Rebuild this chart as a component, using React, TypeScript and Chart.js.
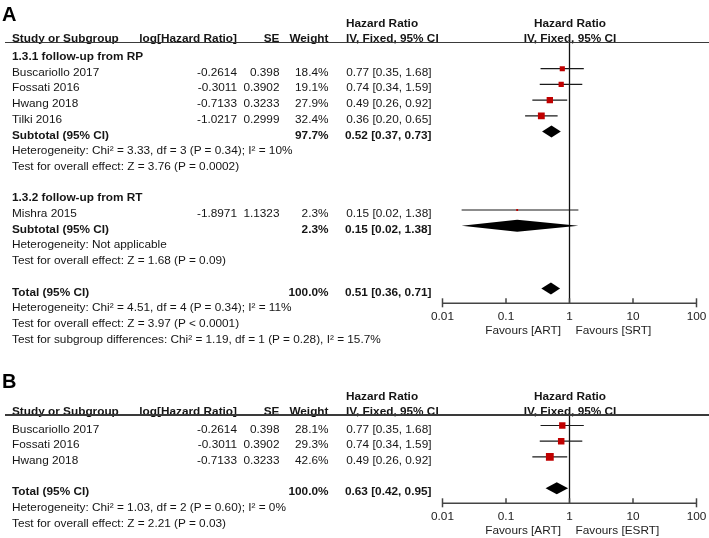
import React, { useEffect, useRef } from "react";
import { Chart, registerables } from "chart.js";

Chart.register(...registerables);

const FONT = '"Liberation Sans", Arial, Helvetica, sans-serif';
const FS = 11.8;
const ROW_H = 15.7;
const W = 709;
const TEXT = "#151515";
const RED = "#c00000";
const SQ_K = 1.2;

// axis
const TICKS = [0.01, 0.1, 1, 10, 100];
const TICK_LABELS = ["0.01", "0.1", "1", "10", "100"];

// ---------- Panel A data ----------
const A_STUDY = ["Buscariollo 2017", "Fossati 2016", "Hwang 2018", "Tilki 2016", "Mishra 2015"];
const A_LOGHR = [-0.2614, -0.3011, -0.7133, -1.0217, -1.8971];
const A_SE = [0.398, 0.3902, 0.3233, 0.2999, 1.1323];
const A_WEIGHT = [18.4, 19.1, 27.9, 32.4, 2.3];
const A_HR = [0.77, 0.74, 0.49, 0.36, 0.15];
const A_LO = [0.35, 0.34, 0.26, 0.2, 0.02];
const A_HI = [1.68, 1.59, 0.92, 0.65, 1.38];
const A_ROWS = [1, 2, 3, 4, 10];

const A_POOL_LABEL = ["Subtotal (95% CI)", "Subtotal (95% CI)", "Total (95% CI)"];
const A_POOL_WEIGHT = [97.7, 2.3, 100.0];
const A_POOL_HR = [0.52, 0.15, 0.51];
const A_POOL_LO = [0.37, 0.02, 0.36];
const A_POOL_HI = [0.73, 1.38, 0.71];
const A_POOL_ROWS = [5, 11, 15];

const A_NOTES = [
  "1.3.1 follow-up from RP",
  "Heterogeneity: Chi² = 3.33, df = 3 (P = 0.34); I² = 10%",
  "Test for overall effect: Z = 3.76 (P = 0.0002)",
  "1.3.2 follow-up from RT",
  "Heterogeneity: Not applicable",
  "Test for overall effect: Z = 1.68 (P = 0.09)",
  "Heterogeneity: Chi² = 4.51, df = 4 (P = 0.34); I² = 11%",
  "Test for overall effect: Z = 3.97 (P < 0.0001)",
  "Test for subgroup differences: Chi² = 1.19, df = 1 (P = 0.28), I² = 15.7%",
];
const A_NOTE_ROWS = [0, 6, 7, 9, 12, 13, 16, 17, 18];
const A_NOTE_BOLD = [true, false, false, true, false, false, false, false, false];
const A_FAVOURS = ["Favours [ART]", "Favours [SRT]"];

// ---------- Panel B data ----------
const B_STUDY = ["Buscariollo 2017", "Fossati 2016", "Hwang 2018"];
const B_LOGHR = [-0.2614, -0.3011, -0.7133];
const B_SE = [0.398, 0.3902, 0.3233];
const B_WEIGHT = [28.1, 29.3, 42.6];
const B_HR = [0.77, 0.74, 0.49];
const B_LO = [0.35, 0.34, 0.26];
const B_HI = [1.68, 1.59, 0.92];
const B_ROWS = [0, 1, 2];

const B_POOL_LABEL = ["Total (95% CI)"];
const B_POOL_WEIGHT = [100.0];
const B_POOL_HR = [0.63];
const B_POOL_LO = [0.42];
const B_POOL_HI = [0.95];
const B_POOL_ROWS = [4];

const B_NOTES = [
  "Heterogeneity: Chi² = 1.03, df = 2 (P = 0.60); I² = 0%",
  "Test for overall effect: Z = 2.21 (P = 0.03)",
];
const B_NOTE_ROWS = [5, 6];
const B_NOTE_BOLD = [false, false];
const B_FAVOURS = ["Favours [ART]", "Favours [ESRT]"];

// ---------- layout ----------
const X_LEFT = 442.5; // pixel of 0.01
const X_RIGHT = 696.5; // pixel of 100
const COL_STUDY = 12;
const COL_LOG = 237;
const COL_SE = 279.5;
const COL_WT = 328.5;
const COL_CI_R = 431.5;
const COL_CI_L = 346;
const COL_PLOT_C = 570;

const fmtCI = (h: number, l: number, u: number) =>
  `${h.toFixed(2)} [${l.toFixed(2)}, ${u.toFixed(2)}]`;

type TxtProps = { x: number; y: number; t: string; b?: boolean; a?: "l" | "r" | "c" };
function Txt({ x, y, t, b, a = "l" }: TxtProps) {
  const tr = a === "r" ? "translateX(-100%)" : a === "c" ? "translateX(-50%)" : undefined;
  return (
    <div
      style={{
        position: "absolute",
        left: x,
        top: y - 7,
        lineHeight: "14px",
        whiteSpace: "nowrap",
        fontWeight: b ? "bold" : "normal",
        transform: tr,
      }}
    >
      {t}
    </div>
  );
}

const decor = {
  id: "decor",
  beforeDatasetsDraw(chart: any, _args: any, opts: any) {
    const { ctx, chartArea: ca } = chart;
    const x = chart.scales.x;
    const x1 = x.getPixelForValue(1);
    ctx.save();
    ctx.strokeStyle = "#111";
    ctx.lineWidth = 1.3;
    ctx.beginPath();
    ctx.moveTo(x1, ca.top);
    ctx.lineTo(x1, ca.bottom);
    ctx.stroke();
    const ay = ca.bottom;
    ctx.strokeStyle = "#444";
    ctx.lineWidth = 1.5;
    ctx.beginPath();
    ctx.moveTo(x.getPixelForValue(TICKS[0]), ay);
    ctx.lineTo(x.getPixelForValue(TICKS[TICKS.length - 1]), ay);
    ctx.stroke();
    ctx.fillStyle = "#222";
    ctx.font = `${FS}px ${FONT}`;
    ctx.textBaseline = "middle";
    ctx.textAlign = "center";
    TICKS.forEach((t, k) => {
      const px = x.getPixelForValue(t);
      const end = k === 0 || k === TICKS.length - 1;
      ctx.beginPath();
      ctx.moveTo(px, ay - 5);
      ctx.lineTo(px, end ? ay + 4 : ay + 0.5);
      ctx.stroke();
      ctx.fillText(TICK_LABELS[k], px, ay + 13.6);
    });
    ctx.textAlign = "right";
    ctx.fillText(opts.favours[0], x1 - 8.5, ay + 27);
    ctx.textAlign = "left";
    ctx.fillText(opts.favours[1], x1 + 6, ay + 27);
    ctx.restore();
  },
  afterDatasetsDraw(chart: any, _args: any, opts: any) {
    const { ctx } = chart;
    const x = chart.scales.x;
    const y = chart.scales.y;
    ctx.save();
    ctx.fillStyle = "#000";
    opts.poolHr.forEach((h: number, k: number) => {
      const py = y.getPixelForValue(opts.poolRows[k]);
      const xl = x.getPixelForValue(opts.poolLo[k]);
      const xh = x.getPixelForValue(opts.poolHi[k]);
      const xc = x.getPixelForValue(h);
      ctx.beginPath();
      ctx.moveTo(xl, py);
      ctx.lineTo(xc, py - 6);
      ctx.lineTo(xh, py);
      ctx.lineTo(xc, py + 6);
      ctx.closePath();
      ctx.fill();
    });
    ctx.restore();
  },
};

type ForestProps = {
  top: number;
  height: number;
  areaTop: number;
  areaBottom: number;
  markY0: number;
  rows: number[];
  hr: number[];
  lo: number[];
  hi: number[];
  weight: number[];
  poolRows: number[];
  poolHr: number[];
  poolLo: number[];
  poolHi: number[];
  favours: string[];
};

function Forest(p: ForestProps) {
  const ref = useRef<HTMLCanvasElement>(null);
  useEffect(() => {
    const yMin = (p.areaTop - p.markY0) / ROW_H;
    const yMax = (p.areaBottom - p.markY0) / ROW_H;
    const radii = p.weight.map((w) => (SQ_K * Math.sqrt(w)) / Math.SQRT2);
    const chart = new Chart(ref.current as HTMLCanvasElement, {
      type: "scatter",
      data: {
        datasets: [
          {
            data: p.hr.map((v, k) => ({ x: v, y: p.rows[k] })),
            pointStyle: "rect",
            pointRadius: radii,
            pointHoverRadius: radii,
            backgroundColor: RED,
            borderWidth: 0,
          } as any,
          ...p.lo.map((l, k) => ({
            data: [
              { x: l, y: p.rows[k] },
              { x: p.hi[k], y: p.rows[k] },
            ],
            showLine: true,
            borderColor: "#1a1a1a",
            borderWidth: 1.2,
            pointRadius: 0,
            pointHoverRadius: 0,
          })),
        ],
      },
      options: {
        responsive: false,
        animation: false,
        events: [],
        layout: {
          padding: {
            left: X_LEFT,
            right: W - X_RIGHT,
            top: p.areaTop,
            bottom: p.height - p.areaBottom,
          },
        },
        scales: {
          x: { type: "logarithmic", min: TICKS[0], max: TICKS[TICKS.length - 1], display: false },
          y: { type: "linear", min: yMin, max: yMax, reverse: true, display: false },
        },
        plugins: {
          legend: { display: false },
          tooltip: { enabled: false },
          decor: {
            favours: p.favours,
            poolRows: p.poolRows,
            poolHr: p.poolHr,
            poolLo: p.poolLo,
            poolHi: p.poolHi,
          },
        } as any,
      },
      plugins: [decor],
    });
    return () => chart.destroy();
  }, []);
  return (
    <canvas
      ref={ref}
      width={W}
      height={p.height}
      style={{ position: "absolute", left: 0, top: p.top, width: W, height: p.height }}
    />
  );
}

type PanelTextProps = {
  y0: number; // first data row text centre
  headY: number; // "Hazard Ratio" header centre
  lineY: number;
  study: string[];
  logHr: number[];
  se: number[];
  weight: number[];
  hr: number[];
  lo: number[];
  hi: number[];
  rows: number[];
  poolLabel: string[];
  poolWeight: number[];
  poolHr: number[];
  poolLo: number[];
  poolHi: number[];
  poolRows: number[];
  notes: string[];
  noteRows: number[];
  noteBold: boolean[];
};

function PanelText(p: PanelTextProps) {
  const ry = (i: number) => p.y0 + ROW_H * i;
  const sub = p.headY + 15;
  return (
    <>
      <Txt x={COL_CI_L} y={p.headY} t="Hazard Ratio" b />
      <Txt x={COL_PLOT_C} y={p.headY} t="Hazard Ratio" b a="c" />
      <Txt x={COL_STUDY} y={sub} t="Study or Subgroup" b />
      <Txt x={COL_LOG} y={sub} t="log[Hazard Ratio]" b a="r" />
      <Txt x={COL_SE} y={sub} t="SE" b a="r" />
      <Txt x={COL_WT} y={sub} t="Weight" b a="r" />
      <Txt x={COL_CI_L} y={sub} t="IV, Fixed, 95% CI" b />
      <Txt x={COL_PLOT_C} y={sub} t="IV, Fixed, 95% CI" b a="c" />
      <div
        style={{
          position: "absolute",
          left: 5,
          top: p.lineY - 0.75,
          width: W - 5,
          height: 1.5,
          background: "#3a3a3a",
        }}
      />
      {p.study.map((s, k) => (
        <React.Fragment key={"s" + k}>
          <Txt x={COL_STUDY} y={ry(p.rows[k])} t={s} />
          <Txt x={COL_LOG} y={ry(p.rows[k])} t={String(p.logHr[k])} a="r" />
          <Txt x={COL_SE} y={ry(p.rows[k])} t={String(p.se[k])} a="r" />
          <Txt x={COL_WT} y={ry(p.rows[k])} t={p.weight[k].toFixed(1) + "%"} a="r" />
          <Txt x={COL_CI_R} y={ry(p.rows[k])} t={fmtCI(p.hr[k], p.lo[k], p.hi[k])} a="r" />
        </React.Fragment>
      ))}
      {p.poolLabel.map((s, k) => (
        <React.Fragment key={"p" + k}>
          <Txt x={COL_STUDY} y={ry(p.poolRows[k])} t={s} b />
          <Txt x={COL_WT} y={ry(p.poolRows[k])} t={p.poolWeight[k].toFixed(1) + "%"} b a="r" />
          <Txt
            x={COL_CI_R}
            y={ry(p.poolRows[k])}
            t={fmtCI(p.poolHr[k], p.poolLo[k], p.poolHi[k])}
            b
            a="r"
          />
        </React.Fragment>
      ))}
      {p.notes.map((s, k) => (
        <Txt key={"n" + k} x={COL_STUDY} y={ry(p.noteRows[k])} t={s} b={p.noteBold[k]} />
      ))}
    </>
  );
}

export default function App() {
  // Panel A geometry
  const A_HEAD = 23;
  const A_LINE = 42.3;
  const A_Y0 = 56;
  const A_AXIS = 303.3;
  // Panel B geometry
  const B_TOP = 360;
  const B_HEAD = 395.5;
  const B_LINE = 414.8;
  const B_Y0 = 428.5;
  const B_AXIS = 503.3;
  const MARK_DY = -3;

  return (
    <div
      style={{
        position: "absolute",
        left: 0,
        top: 0,
        width: W,
        height: 538,
        background: "#fff",
        fontFamily: FONT,
        fontSize: FS,
        color: TEXT,
        overflow: "hidden",
      }}
    >
      <Forest
        top={0}
        height={B_TOP}
        areaTop={A_LINE}
        areaBottom={A_AXIS}
        markY0={A_Y0 + MARK_DY}
        rows={A_ROWS}
        hr={A_HR}
        lo={A_LO}
        hi={A_HI}
        weight={A_WEIGHT}
        poolRows={A_POOL_ROWS}
        poolHr={A_POOL_HR}
        poolLo={A_POOL_LO}
        poolHi={A_POOL_HI}
        favours={A_FAVOURS}
      />
      <Forest
        top={B_TOP}
        height={538 - B_TOP}
        areaTop={B_LINE - B_TOP}
        areaBottom={B_AXIS - B_TOP}
        markY0={B_Y0 + MARK_DY - B_TOP}
        rows={B_ROWS}
        hr={B_HR}
        lo={B_LO}
        hi={B_HI}
        weight={B_WEIGHT}
        poolRows={B_POOL_ROWS}
        poolHr={B_POOL_HR}
        poolLo={B_POOL_LO}
        poolHi={B_POOL_HI}
        favours={B_FAVOURS}
      />
      <div
        style={{
          position: "absolute",
          left: 2,
          top: 14 - 12,
          fontSize: 20,
          lineHeight: "24px",
          fontWeight: "bold",
          color: "#000",
        }}
      >
        A
      </div>
      <div
        style={{
          position: "absolute",
          left: 2,
          top: 381 - 12,
          fontSize: 20,
          lineHeight: "24px",
          fontWeight: "bold",
          color: "#000",
        }}
      >
        B
      </div>
      <PanelText
        y0={A_Y0}
        headY={A_HEAD}
        lineY={A_LINE}
        study={A_STUDY}
        logHr={A_LOGHR}
        se={A_SE}
        weight={A_WEIGHT}
        hr={A_HR}
        lo={A_LO}
        hi={A_HI}
        rows={A_ROWS}
        poolLabel={A_POOL_LABEL}
        poolWeight={A_POOL_WEIGHT}
        poolHr={A_POOL_HR}
        poolLo={A_POOL_LO}
        poolHi={A_POOL_HI}
        poolRows={A_POOL_ROWS}
        notes={A_NOTES}
        noteRows={A_NOTE_ROWS}
        noteBold={A_NOTE_BOLD}
      />
      <PanelText
        y0={B_Y0}
        headY={B_HEAD}
        lineY={B_LINE}
        study={B_STUDY}
        logHr={B_LOGHR}
        se={B_SE}
        weight={B_WEIGHT}
        hr={B_HR}
        lo={B_LO}
        hi={B_HI}
        rows={B_ROWS}
        poolLabel={B_POOL_LABEL}
        poolWeight={B_POOL_WEIGHT}
        poolHr={B_POOL_HR}
        poolLo={B_POOL_LO}
        poolHi={B_POOL_HI}
        poolRows={B_POOL_ROWS}
        notes={B_NOTES}
        noteRows={B_NOTE_ROWS}
        noteBold={B_NOTE_BOLD}
      />
    </div>
  );
}
